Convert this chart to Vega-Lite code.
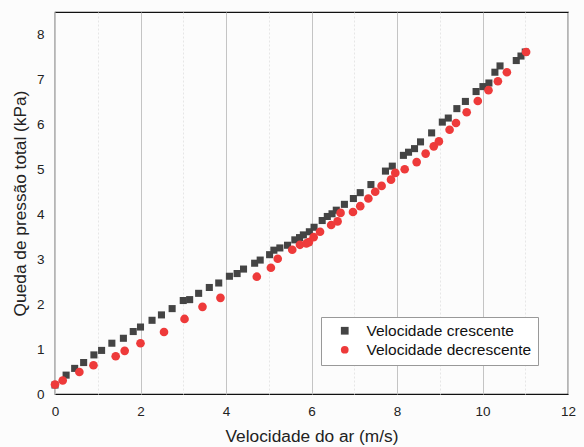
{
  "$schema": "https://vega.github.io/schema/vega-lite/v6.json",
  "width": 513,
  "height": 382,
  "autosize": "none",
  "padding": {"left": 55, "top": 12, "right": 16, "bottom": 53},
  "background": "#fcfcfc",
  "config": {
    "font": "Liberation Sans",
    "view": {"stroke": "#111111", "strokeWidth": 1.2}
  },
  "datasets": {
    "cres": [
      {"v":0.0,"p":0.2},{"v":0.26,"p":0.42},{"v":0.46,"p":0.57},{"v":0.67,"p":0.70},{"v":0.91,"p":0.87},
      {"v":1.09,"p":0.97},{"v":1.33,"p":1.13},{"v":1.6,"p":1.24},{"v":1.83,"p":1.39},{"v":2.0,"p":1.49},
      {"v":2.27,"p":1.64},{"v":2.49,"p":1.76},{"v":2.74,"p":1.9},{"v":3.0,"p":2.08},{"v":3.15,"p":2.1},
      {"v":3.36,"p":2.24},{"v":3.61,"p":2.37},{"v":3.83,"p":2.47},{"v":4.08,"p":2.62},{"v":4.26,"p":2.68},
      {"v":4.41,"p":2.78},{"v":4.67,"p":2.91},{"v":4.8,"p":2.98},{"v":5.02,"p":3.1},{"v":5.12,"p":3.2},
      {"v":5.26,"p":3.25},{"v":5.44,"p":3.31},{"v":5.61,"p":3.43},{"v":5.72,"p":3.48},{"v":5.81,"p":3.54},
      {"v":5.95,"p":3.61},{"v":6.06,"p":3.71},{"v":6.25,"p":3.86},{"v":6.37,"p":3.95},{"v":6.48,"p":4.01},
      {"v":6.58,"p":4.09},{"v":6.77,"p":4.22},{"v":6.98,"p":4.35},{"v":7.14,"p":4.48},{"v":7.39,"p":4.66},
      {"v":7.73,"p":4.96},{"v":7.89,"p":5.07},{"v":8.15,"p":5.31},{"v":8.27,"p":5.38},{"v":8.41,"p":5.46},
      {"v":8.55,"p":5.61},{"v":8.81,"p":5.81},{"v":9.06,"p":6.05},{"v":9.2,"p":6.14},{"v":9.4,"p":6.35},
      {"v":9.6,"p":6.51},{"v":9.85,"p":6.73},{"v":10.01,"p":6.84},{"v":10.15,"p":6.92},{"v":10.29,"p":7.16},
      {"v":10.41,"p":7.3},{"v":10.79,"p":7.42},{"v":10.9,"p":7.52},{"v":11.0,"p":7.61}
    ],
    "decr": [
      {"v":0.0,"p":0.21},{"v":0.18,"p":0.30},{"v":0.57,"p":0.49},{"v":0.9,"p":0.64},{"v":1.42,"p":0.84},
      {"v":1.63,"p":0.96},{"v":2.0,"p":1.13},{"v":2.55,"p":1.38},{"v":3.03,"p":1.67},{"v":3.45,"p":1.94},
      {"v":3.87,"p":2.14},{"v":4.72,"p":2.61},{"v":5.05,"p":2.81},{"v":5.21,"p":3.01},{"v":5.55,"p":3.21},
      {"v":5.73,"p":3.32},{"v":5.88,"p":3.35},{"v":5.94,"p":3.38},{"v":6.05,"p":3.49},{"v":6.2,"p":3.61},
      {"v":6.46,"p":3.76},{"v":6.61,"p":3.84},{"v":6.68,"p":4.03},{"v":6.97,"p":4.05},{"v":7.14,"p":4.18},
      {"v":7.33,"p":4.35},{"v":7.49,"p":4.5},{"v":7.64,"p":4.63},{"v":7.86,"p":4.77},{"v":7.96,"p":4.92},
      {"v":8.18,"p":5.0},{"v":8.46,"p":5.16},{"v":8.67,"p":5.35},{"v":8.86,"p":5.51},{"v":8.98,"p":5.62},
      {"v":9.23,"p":5.88},{"v":9.38,"p":6.03},{"v":9.63,"p":6.27},{"v":9.89,"p":6.52},{"v":10.14,"p":6.76},
      {"v":10.36,"p":6.96},{"v":10.57,"p":7.16},{"v":11.02,"p":7.61}
    ]
  },
  "layer": [
    {
      "data": {"name": "cres"},
      "transform": [{"calculate": "'Velocidade crescente'", "as": "serie"}],
      "mark": {"type": "point", "filled": true, "opacity": 1, "size": 50},
      "encoding": {
        "x": {
          "field": "v", "type": "quantitative",
          "scale": {"domain": [0, 12], "nice": false, "zero": false},
          "axis": {
            "title": "Velocidade do ar (m/s)",
            "values": [0,1,2,3,4,5,6,7,8,9,10,11,12],
            "labelExpr": "datum.value % 2 === 0 ? datum.label : ''",
            "grid": true,
            "gridColor": {"condition": {"test": "datum.value % 2 === 0", "value": "#c4c4c4"}, "value": "#e6e6e6"},
            "gridDash": {"condition": {"test": "datum.value % 2 === 0", "value": []}, "value": [2, 2]},
            "ticks": false,
            "domain": false,
            "labelFontSize": 13.5,
            "labelColor": "#222222",
            "labelPadding": 10,
            "labelFlush": false,
            "titleFontSize": 17.3,
            "titleFontWeight": "normal",
            "titleColor": "#222222",
            "titlePadding": 10
          }
        },
        "y": {
          "field": "p", "type": "quantitative",
          "scale": {"domain": [0, 8.5], "nice": false},
          "axis": {
            "title": "Queda de pressão total (kPa)",
            "values": [0,1,2,3,4,5,6,7,8],
            "grid": false,
            "ticks": false,
            "domain": false,
            "labelFontSize": 13.5,
            "labelColor": "#222222",
            "labelPadding": 11,
            "titleFontSize": 17.3,
            "titleFontWeight": "normal",
            "titleColor": "#222222",
            "titlePadding": 7
          }
        },
        "color": {
          "field": "serie", "type": "nominal",
          "scale": {"domain": ["Velocidade crescente", "Velocidade decrescente"], "range": ["#444444", "#ee3a3a"]},
          "legend": {
            "title": null,
            "orient": "none",
            "legendX": 266,
            "legendY": 305,
            "fillColor": "#ffffff",
            "strokeColor": "#999999",
            "padding": 6,
            "labelFontSize": 15.5,
            "labelLimit": 400,
            "labelColor": "#111111",
            "symbolSize": 60,
            "rowPadding": 2,
            "labelOffset": 14,
            "symbolOffset": 10
          }
        },
        "shape": {
          "field": "serie", "type": "nominal",
          "scale": {"domain": ["Velocidade crescente", "Velocidade decrescente"], "range": ["square", "circle"]},
          "legend": null
        }
      }
    },
    {
      "data": {"name": "decr"},
      "transform": [{"calculate": "'Velocidade decrescente'", "as": "serie"}],
      "mark": {"type": "point", "filled": true, "opacity": 1, "size": 75},
      "encoding": {
        "x": {"field": "v", "type": "quantitative"},
        "y": {"field": "p", "type": "quantitative"},
        "color": {"field": "serie", "type": "nominal"},
        "shape": {"field": "serie", "type": "nominal"}
      }
    }
  ]
}
